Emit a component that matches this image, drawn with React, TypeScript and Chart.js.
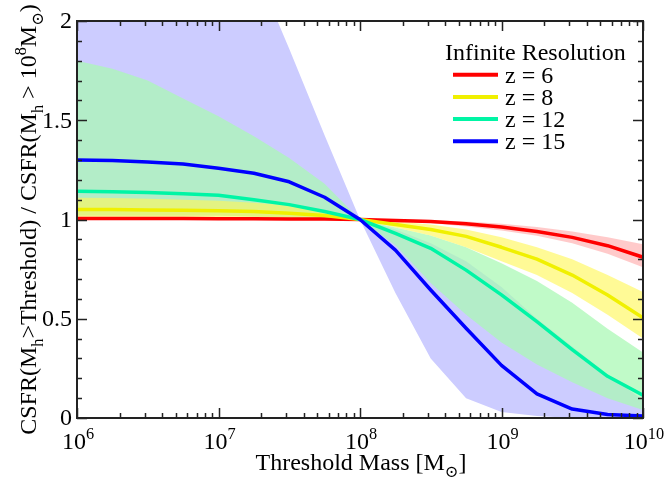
import React, { useEffect, useRef } from 'react';
import { Chart, registerables } from 'chart.js';
Chart.register(...registerables);

// Threshold halo masses (quarter-decade grid), in solar masses
const thresholdMass = [1e6, 1.78e6, 3.16e6, 5.62e6, 1e7, 1.78e7, 3.16e7, 5.62e7, 1e8, 1.78e8, 3.16e8, 5.62e8, 1e9, 1.78e9, 3.16e9, 5.62e9, 1e10];

// z = 6
const z6Line = [1.005, 1.005, 1.005, 1.005, 1.004, 1.004, 1.003, 1.002, 1.0, 0.995, 0.99, 0.978, 0.962, 0.94, 0.91, 0.868, 0.81];
const z6Upper = [1.01, 1.01, 1.01, 1.01, 1.009, 1.008, 1.006, 1.004, 1.0, 1.0, 0.997, 0.99, 0.978, 0.962, 0.94, 0.91, 0.875];
const z6Lower = [1.0, 1.0, 1.0, 1.0, 1.0, 1.0, 1.0, 1.0, 1.0, 0.99, 0.982, 0.965, 0.945, 0.918, 0.88, 0.828, 0.76];
// z = 8
const z8Line = [1.05, 1.05, 1.048, 1.046, 1.044, 1.04, 1.032, 1.02, 1.0, 0.975, 0.95, 0.915, 0.86, 0.8, 0.72, 0.62, 0.505];
const z8Upper = [1.11, 1.108, 1.105, 1.1, 1.095, 1.085, 1.07, 1.045, 1.0, 0.99, 0.975, 0.95, 0.91, 0.86, 0.8, 0.72, 0.635];
const z8Lower = [1.0, 1.0, 1.0, 1.0, 1.0, 1.0, 1.0, 1.0, 1.0, 0.96, 0.92, 0.86, 0.79, 0.72, 0.63, 0.52, 0.4];
// z = 12
const z12Line = [1.142, 1.14, 1.136, 1.13, 1.122, 1.1, 1.075, 1.04, 1.0, 0.93, 0.855, 0.745, 0.62, 0.485, 0.345, 0.21, 0.115];
const z12Upper = [1.8, 1.76, 1.7, 1.61, 1.52, 1.42, 1.31, 1.18, 1.0, 0.96, 0.92, 0.86, 0.78, 0.69, 0.58, 0.45, 0.33];
const z12Lower = [1.02, 1.02, 1.02, 1.02, 1.02, 1.015, 1.01, 1.005, 1.0, 0.87, 0.68, 0.52, 0.38, 0.27, 0.18, 0.1, 0.04];
// z = 15
const z15Line = [1.3, 1.297, 1.29, 1.28, 1.258, 1.233, 1.19, 1.112, 1.0, 0.846, 0.645, 0.452, 0.265, 0.122, 0.045, 0.018, 0.01];
const z15Upper = [3.5, 3.3, 3.1, 2.9, 2.7, 2.28, 1.86, 1.425, 1.0, 0.95, 0.88, 0.79, 0.66, 0.5, 0.36, 0.22, 0.09];
const z15Lower = [1.02, 1.02, 1.02, 1.02, 1.02, 1.015, 1.01, 1.005, 1.0, 0.63, 0.3, 0.1, 0.03, 0.01, 0.0, 0.0, 0.0];

const seriesLabels = ['z = 6', 'z = 8', 'z = 12', 'z = 15'];
const legendTitle = 'Infinite Resolution';

const xMajorTicks = [1e6, 1e7, 1e8, 1e9, 1e10];
const xTickBase = '10';
const xTickExponents = ['6', '7', '8', '9', '10'];
const yMajorTicks = [0, 0.5, 1, 1.5, 2];
const yTickLabels = ['0', '0.5', '1', '1.5', '2'];
const yMinorStep = 0.1;

const FONT = '"Liberation Serif", "DejaVu Serif", "Times New Roman", serif';
const FS = 24;

type Seg = { t: string; k?: 'sub' | 'sup' };
const xTitle: Seg[] = [{ t: 'Threshold Mass [M' }, { t: '\u2299', k: 'sub' }, { t: ']' }];
const yTitle: Seg[] = [
  { t: 'CSFR(M' }, { t: 'h', k: 'sub' }, { t: '>Threshold) / CSFR(M' }, { t: 'h', k: 'sub' },
  { t: ' > 10' }, { t: '8', k: 'sup' }, { t: 'M' }, { t: '\u2299', k: 'sub' }, { t: ')' },
];

function segSize(size: number, k?: string) {
  return k ? size * 0.68 : size;
}
function richWidth(ctx: CanvasRenderingContext2D, segs: Seg[], size: number) {
  let w = 0;
  for (const s of segs) {
    ctx.font = `${segSize(size, s.k)}px ${FONT}`;
    w += ctx.measureText(s.t).width;
  }
  return w;
}
function drawRich(ctx: CanvasRenderingContext2D, segs: Seg[], x: number, y: number, size: number) {
  // x is the center, y the baseline
  const total = richWidth(ctx, segs, size);
  let cx = x - total / 2;
  ctx.textAlign = 'left';
  ctx.textBaseline = 'alphabetic';
  for (const s of segs) {
    const fs = segSize(size, s.k);
    ctx.font = `${fs}px ${FONT}`;
    const dy = s.k === 'sub' ? size * 0.28 : s.k === 'sup' ? -size * 0.42 : 0;
    ctx.fillText(s.t, cx, y + dy);
    cx += ctx.measureText(s.t).width;
  }
}

const framePlugin = {
  id: 'framePlugin',
  afterDraw(chart: any) {
    const ctx: CanvasRenderingContext2D = chart.ctx;
    const { left, right, top, bottom } = chart.chartArea;
    const xs = chart.scales.x;
    const ys = chart.scales.y;
    ctx.save();
    ctx.fillStyle = '#000';
    ctx.strokeStyle = '#222';

    // ticks
    ctx.lineWidth = 1.5;
    ctx.beginPath();
    for (let d = 0; d < xMajorTicks.length; d++) {
      const base = xMajorTicks[d];
      const px = Math.round(xs.getPixelForValue(base)) + 0.5;
      ctx.moveTo(px, bottom); ctx.lineTo(px, bottom - 10);
      ctx.moveTo(px, top); ctx.lineTo(px, top + 10);
      if (d < xMajorTicks.length - 1) {
        for (let m = 2; m <= 9; m++) {
          const p = Math.round(xs.getPixelForValue(base * m)) + 0.5;
          ctx.moveTo(p, bottom); ctx.lineTo(p, bottom - 5);
          ctx.moveTo(p, top); ctx.lineTo(p, top + 5);
        }
      }
    }
    const yMin = yMajorTicks[0];
    const yMax = yMajorTicks[yMajorTicks.length - 1];
    const nMinor = Math.round((yMax - yMin) / yMinorStep);
    for (let i = 0; i <= nMinor; i++) {
      const v = yMin + i * yMinorStep;
      const isMajor = yMajorTicks.some((t) => Math.abs(t - v) < 1e-6);
      const len = isMajor ? 10 : 5;
      const py = Math.round(ys.getPixelForValue(v)) + 0.5;
      ctx.moveTo(left, py); ctx.lineTo(left + len, py);
      ctx.moveTo(right, py); ctx.lineTo(right - len, py);
    }
    ctx.stroke();

    // frame
    ctx.lineWidth = 2;
    ctx.strokeRect(left, top, right - left, bottom - top);

    // y tick labels
    ctx.font = `${FS}px ${FONT}`;
    ctx.textAlign = 'right';
    ctx.textBaseline = 'middle';
    yMajorTicks.forEach((v, i) => {
      ctx.fillText(yTickLabels[i], left - 5, ys.getPixelForValue(v) + 1);
    });

    // x tick labels
    xMajorTicks.forEach((v, i) => {
      drawRich(ctx, [{ t: xTickBase }, { t: xTickExponents[i], k: 'sup' }], xs.getPixelForValue(v) + 1, bottom + 31, FS);
    });

    // axis titles
    drawRich(ctx, xTitle, (left + right) / 2 + 1, bottom + 52, FS);
    ctx.save();
    ctx.translate(36, (top + bottom) / 2);
    ctx.rotate(-Math.PI / 2);
    drawRich(ctx, yTitle, 0, 0, FS);
    ctx.restore();

    // legend
    ctx.font = `${FS}px ${FONT}`;
    ctx.textAlign = 'left';
    ctx.textBaseline = 'alphabetic';
    ctx.fillText(legendTitle, 445, 60);
    const lineSets = chart.data.datasets.filter((d: any) => d.isSeriesLine);
    lineSets.forEach((d: any, i: number) => {
      const ly = 74.7 + i * 22.2;
      ctx.strokeStyle = d.borderColor;
      ctx.lineWidth = 4;
      ctx.beginPath();
      ctx.moveTo(453, ly); ctx.lineTo(498, ly);
      ctx.stroke();
      ctx.fillStyle = '#000';
      ctx.fillText(d.label, 505, ly + 8);
    });
    ctx.restore();
  },
};

function pts(vals: number[]) {
  return vals.map((v, i) => ({ x: thresholdMass[i], y: v }));
}

export default function App() {
  const ref = useRef<HTMLCanvasElement | null>(null);
  useEffect(() => {
    if (!ref.current) return;
    const band = (vals: number[], color: string, target: number | false, order: number) => ({
      label: '',
      data: pts(vals),
      borderWidth: 0,
      borderColor: 'rgba(0,0,0,0)',
      backgroundColor: color,
      pointRadius: 0,
      fill: target === false ? false : { target },
      order,
      tension: 0,
    });
    const line = (vals: number[], color: string, label: string, order: number) => ({
      label,
      data: pts(vals),
      borderWidth: 3.5,
      borderColor: color,
      backgroundColor: color,
      pointRadius: 0,
      fill: false,
      order,
      tension: 0,
      isSeriesLine: true,
      borderJoinStyle: 'round',
    });
    const datasets: any[] = [
      band(z15Upper, 'rgb(204,204,255)', 1, 100),
      band(z15Lower, 'rgba(0,0,0,0)', false, 100),
      band(z12Upper, 'rgba(171,248,181,0.75)', 3, 90),
      band(z12Lower, 'rgba(0,0,0,0)', false, 90),
      band(z8Upper, 'rgba(255,247,89,0.63)', 5, 80),
      band(z8Lower, 'rgba(0,0,0,0)', false, 80),
      band(z6Upper, 'rgba(255,150,150,0.5)', 7, 70),
      band(z6Lower, 'rgba(0,0,0,0)', false, 70),
      line(z6Line, '#ff0000', seriesLabels[0], 40),
      line(z8Line, '#f0f000', seriesLabels[1], 30),
      line(z12Line, '#00f5a5', seriesLabels[2], 20),
      line(z15Line, '#0000ff', seriesLabels[3], 10),
    ];
    const chart = new Chart(ref.current, {
      type: 'line',
      data: { datasets },
      options: {
        animation: false,
        responsive: false,
        events: [],
        layout: { padding: { left: 77, right: 24, top: 21, bottom: 63 } },
        scales: {
          x: { type: 'logarithmic', min: 1e6, max: 1e10, display: false },
          y: { type: 'linear', min: 0, max: 2, display: false },
        },
        plugins: {
          legend: { display: false },
          tooltip: { enabled: false },
          filler: { propagate: false },
        },
      } as any,
      plugins: [framePlugin],
    });
    return () => chart.destroy();
  }, []);
  return (
    <div style={{ position: 'fixed', left: 0, top: 0, width: 667, height: 481, background: '#fff' }}>
      <canvas ref={ref} width={667} height={481} />
    </div>
  );
}
